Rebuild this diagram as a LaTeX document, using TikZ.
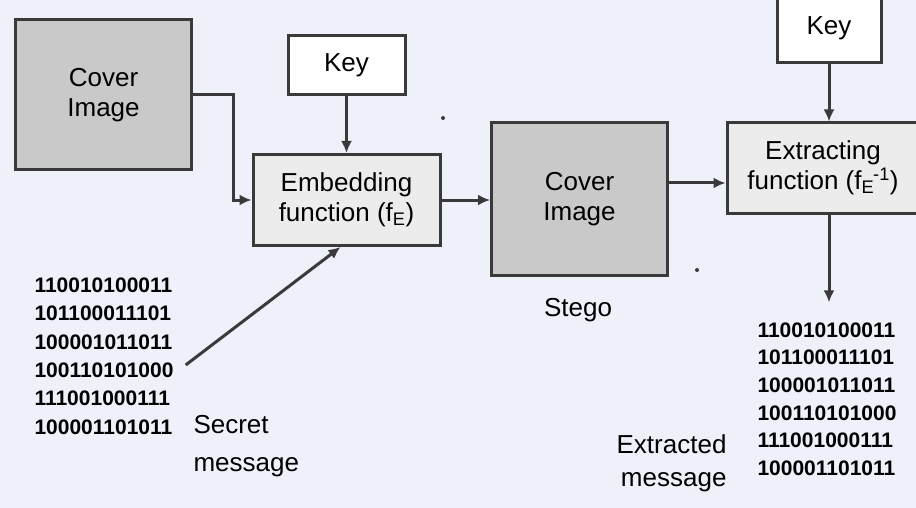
\documentclass[tikz,border=0pt]{standalone}
\usepackage{fontspec}
\setmainfont{Liberation Sans}
\usetikzlibrary{arrows.meta}

\definecolor{pagebg}{RGB}{238,240,250}
\definecolor{boxline}{RGB}{58,58,58}
\definecolor{imgfill}{RGB}{201,201,201}
\definecolor{funcfill}{RGB}{236,236,236}

\newcommand\msgbits{110010100011\\101100011101\\100001011011\\100110101000\\111001000111\\100001101011}

\begin{document}
\begin{tikzpicture}[x=1pt,y=-1pt,font=\fontsize{26}{30}\selectfont,
        box/.style={draw=boxline,line width=3pt,inner sep=0pt,align=center},
        imgbox/.style={box,fill=imgfill,minimum width=176pt},
        keybox/.style={box,fill=white},
        funcbox/.style={box,fill=funcfill,minimum height=91pt},
        bits/.style={align=left,inner sep=0pt,font=\bfseries\fontsize{21}{#1}\selectfont},
        arr/.style={draw=boxline,line width=3pt,-{Latex[length=12pt,width=11pt]}}]
    \fill[pagebg] (0,0) rectangle (916,508);
    \useasboundingbox (0,0) rectangle (916,508);

    % embedding side
    \node[imgbox,minimum height=150pt] (cover) at (103.5,95) {Cover\\Image};
    \node[keybox,minimum width=117pt,minimum height=59pt] (key) at (346.5,65) {Key};
    \node[funcbox,minimum width=187pt] (embed) at (346.5,200) {Embedding\\function (f\textsubscript{E})};
    \node[bits=28.4] (secret) at (104,356) {\msgbits};
    \node[anchor=west,align=left,font=\fontsize{26}{38}\selectfont] (secretlbl) at (190,446) {Secret\\message};

    % stego image and extraction side
    \node[imgbox,minimum height=152pt] (stego) at (579.5,199) {Cover\\Image};
    \node (stegolbl) at (578,310) {Stego};
    \node[funcbox,minimum width=192pt,minimum height=90pt] (extract) at (823,168) {Extracting\\function (f\textsubscript{E}\kern-1pt\textsuperscript{-1})};
    \node[keybox,minimum width=104pt,minimum height=70pt] (key2) at (829,28) {Key};
    \node[bits=27.6] (extracted) at (827,399) {\msgbits};
    \node[anchor=east,align=right,font=\fontsize{26}{33}\selectfont] (extractedlbl) at (730,463) {Extracted\\message};

    \draw[arr] (cover.east) -- ++(40,0) |- (embed.west);
    \draw[arr] (key) -- (embed);
    \draw[arr] ([shift={(12,9)}]secret.east) -- ([xshift=-6pt]embed.south);
    \draw[arr] (embed.east) -- (embed.east -| stego.west);
    \draw[arr] ([yshift=16pt]stego.east) -- ([yshift=16pt]stego.east -| extract.west);
    \draw[arr] (key2.south) -- (key2.south |- extract.north);
    \draw[arr] (extract.south -| key2.south) -- ([yshift=20pt]extracted.north -| key2.south);

    \fill[boxline] (443,118) circle (2pt);
    \fill[boxline] (697,270) circle (2pt);
\end{tikzpicture}
\end{document}
